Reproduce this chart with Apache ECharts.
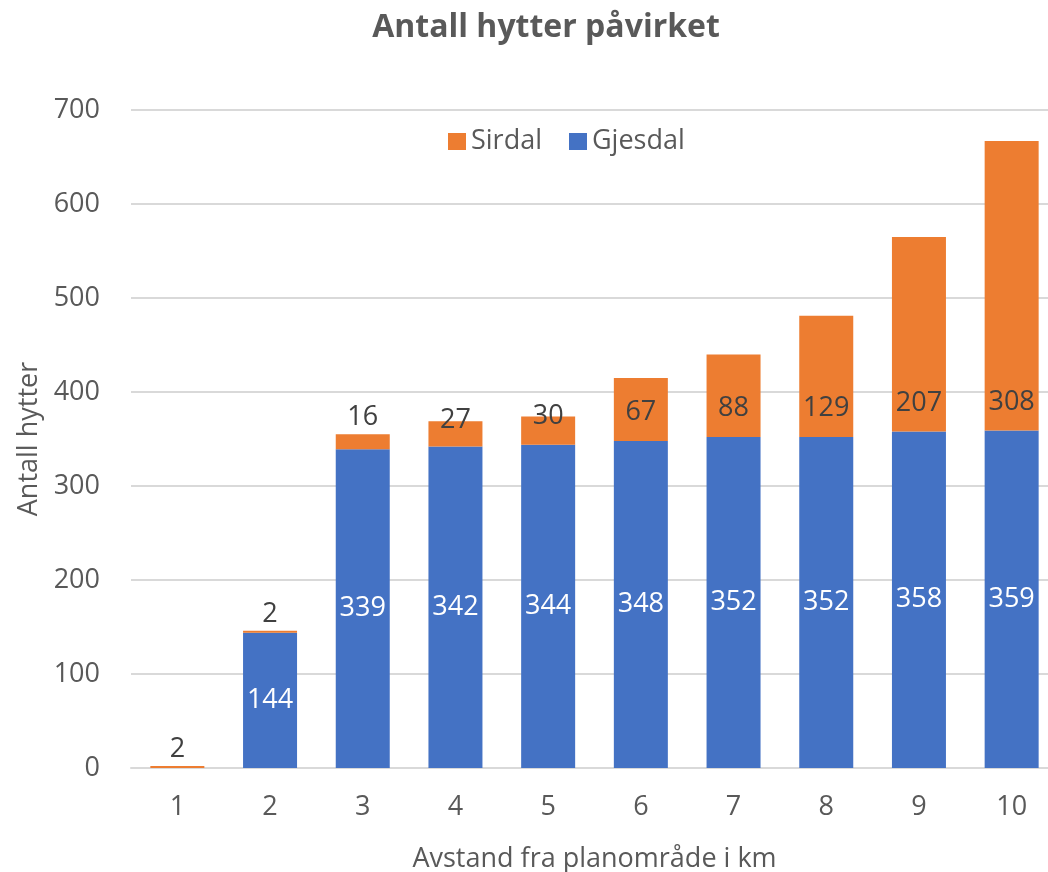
<!DOCTYPE html>
<html>
<head>
<meta charset="utf-8">
<script src="https://cdn.jsdelivr.net/npm/echarts@6/dist/echarts.min.js"></script>
<style>
  html, body { margin: 0; padding: 0; background: #fff; }
  #container { width: 1048px; height: 872px; }
</style>
</head>
<body>
<div id="container"></div>
<script>
// data
var categories = ['1', '2', '3', '4', '5', '6', '7', '8', '9', '10'];
var gjesdal = [0, 144, 339, 342, 344, 348, 352, 352, 358, 359];
var sirdal = [2, 2, 16, 27, 30, 67, 88, 129, 207, 308];

var dom = document.getElementById('container');
var myChart = echarts.init(dom, null, { renderer: 'canvas' });

var font = '"Open Sans", Lato, sans-serif';
var txt = '#595959';
var fs = 27;

// small top segments get their label above the bar
var sirdalData = sirdal.map(function (v) {
   var item = { value: v };
   if (v <= 16) {
      item.label = { position: 'top', distance: 3 };
   } else if (v < 50) {
      item.label = { position: 'top', distance: -13 };
   }
   return item;
});

var gjesdalData = gjesdal.map(function (v) {
   return v === 0 ? { value: v, label: { show: false } } : v;
});

var option = {
   backgroundColor: '#fff',
   textStyle: { fontFamily: font },
   title: {
      text: 'Antall hytter påvirket',
      left: 541,
      textAlign: 'center',
      top: 7,
      textStyle: { fontSize: 32, fontWeight: 'bold', color: txt, fontFamily: font }
   },
   legend: {
      data: ['Sirdal', 'Gjesdal'],
      left: 443,
      top: 123,
      itemWidth: 18,
      itemHeight: 17,
      itemGap: 27,
      icon: 'rect',
      textStyle: { fontSize: fs, color: txt, fontFamily: font }
   },
   grid: {
      left: 131,
      width: 927,
      top: 110,
      bottom: 104,
      containLabel: false,
      outerBoundsMode: 'none'
   },
   xAxis: {
      type: 'category',
      data: categories,
      name: 'Avstand fra planområde i km',
      nameLocation: 'middle',
      nameGap: 78,
      nameTextStyle: { fontSize: fs, color: txt, fontFamily: font },
      axisLine: { lineStyle: { color: '#D9D9D9', width: 2 } },
      axisTick: { show: false },
      axisLabel: { fontSize: fs, color: txt, margin: 26, fontFamily: font }
   },
   yAxis: {
      type: 'value',
      min: 0,
      max: 700,
      interval: 100,
      name: 'Antall hytter',
      nameLocation: 'middle',
      nameGap: 86,
      nameTextStyle: { fontSize: fs, color: txt, fontFamily: font },
      axisLine: { show: false },
      axisTick: { show: false },
      axisLabel: { fontSize: fs, color: txt, margin: 31, fontFamily: font },
      splitLine: { lineStyle: { color: '#D9D9D9', width: 2 } }
   },
   series: [
      {
         name: 'Gjesdal',
         type: 'bar',
         stack: 'total',
         barWidth: 54,
         itemStyle: { color: '#4472C4' },
         label: {
            show: true,
            position: 'inside',
            color: '#fff',
            fontSize: fs,
            fontFamily: font
         },
         data: gjesdalData
      },
      {
         name: 'Sirdal',
         type: 'bar',
         stack: 'total',
         barWidth: 54,
         itemStyle: { color: '#ED7D31' },
         label: {
            show: true,
            position: 'insideBottom',
            distance: 15,
            color: '#404040',
            fontSize: fs,
            fontFamily: font
         },
         data: sirdalData
      }
   ]
};

myChart.setOption(option);
window.addEventListener('resize', myChart.resize);
</script>
</body>
</html>
